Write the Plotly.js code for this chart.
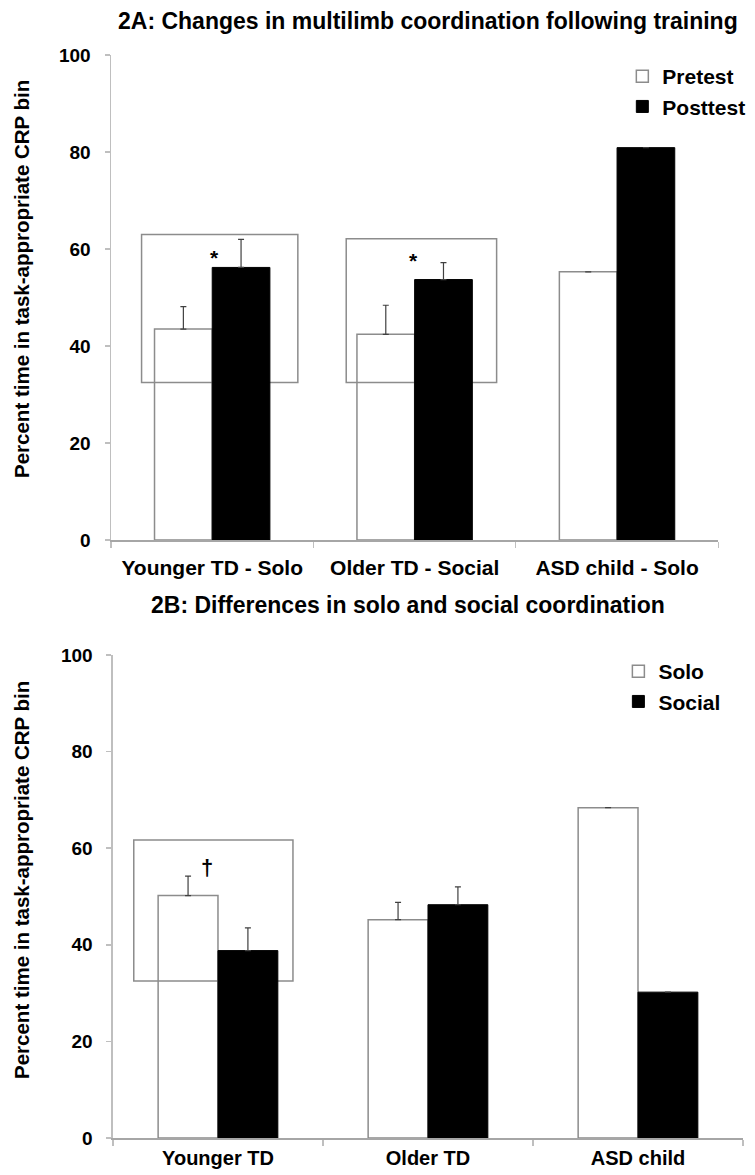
<!DOCTYPE html>
<html>
<head>
<meta charset="utf-8">
<script src="https://cdn.plot.ly/plotly-3.0.1.min.js"></script>
<style>html,body{margin:0;padding:0;background:#fff;}#chart{width:755px;height:1175px;}</style>
</head>
<body>
<div id="chart"></div>
<script>
// ---- Data ----
var catsA = ["Younger TD - Solo", "Older TD - Social", "ASD child - Solo"];
var pretest = [43.5, 42.4, 55.3];
var pretestErr = [4.6, 6.0, null];
var posttest = [56.2, 53.7, 80.9];
var posttestErr = [5.8, 3.5, null];

var catsB = ["Younger TD", "Older TD", "ASD child"];
var solo = [50.2, 45.2, 68.4];
var soloErr = [4.0, 3.6, null];
var social = [38.8, 48.3, 30.2];
var socialErr = [4.7, 3.7, null];

var yTicks = [0, 20, 40, 60, 80, 100];
var yTitleText = "Percent time in task-appropriate CRP bin";

// ---- Styling ----
var FONT = "Liberation Sans, Arial, sans-serif";
var GRAY = "#8c8c8c";
var W = 755, H = 1175;
var M = {l: 111, r: 5, t: 55, b: 37};
var PW = W - M.l - M.r, PH = H - M.t - M.b;
function px2x(px) { return (px - M.l) / PW; }
function py2y(py) { return (H - M.b - py) / PH; }
function bold(size) { return {family: FONT, size: size, weight: "bold", color: "#000"}; }

function barTrace(x, y, err, name, legend, grp, dark) {
  var top = legend === "legend";
  return {
    type: "bar", x: x, y: y, name: name, legend: legend, legendgroup: grp,
    xaxis: top ? "x" : "x2", yaxis: top ? "y" : "y2",
    marker: dark ? {color: "#000000", line: {color: "#000000", width: 1}}
                 : {color: "rgba(255,255,255,0)", line: {color: GRAY, width: 1.5}},
    error_y: {type: "data", symmetric: false, array: err,
              arrayminus: err.map(function(){ return 0; }),
              color: "#404040", thickness: 1.2, width: 3},
    hoverinfo: "x+y"
  };
}

var data = [
  barTrace(catsA, pretest, pretestErr, "Pretest", "legend", "a1", false),
  barTrace(catsA, posttest, posttestErr, "Posttest", "legend", "a2", true),
  barTrace(catsB, solo, soloErr, "Solo", "legend2", "b1", false),
  barTrace(catsB, social, socialErr, "Social", "legend2", "b2", true)
];

function yAxis(domain, anchor) {
  return {
    domain: domain, anchor: anchor, range: [0, 100], tickvals: yTicks, ticktext: yTicks.map(String),
    showgrid: false, zeroline: false, showline: true, linecolor: "#bfbfbf", linewidth: 1.5,
    ticks: "outside", ticklen: 5, tickcolor: "#bfbfbf", tickwidth: 1.5,
    tickfont: bold(19), ticklabelstandoff: 10, fixedrange: true
  };
}
function xAxis(domain, anchor, standoff, size) {
  return {
    domain: domain, anchor: anchor, type: "category",
    showgrid: false, zeroline: false, showline: true, linecolor: "#a6a6a6", linewidth: 1.5,
    ticks: "outside", tickson: "boundaries", ticklen: 6, tickcolor: "#bfbfbf", tickwidth: 1.2,
    tickfont: bold(size), ticklabelstandoff: standoff, fixedrange: true
  };
}

var shapes = [
  {type: "rect", xref: "x", yref: "y", x0: -0.349, x1: 0.423, y0: 32.5, y1: 63.0,
   line: {color: GRAY, width: 1.5}, fillcolor: "rgba(0,0,0,0)", layer: "below"},
  {type: "rect", xref: "x", yref: "y", x0: 0.662, x1: 1.405, y0: 32.5, y1: 62.1,
   line: {color: GRAY, width: 1.5}, fillcolor: "rgba(0,0,0,0)", layer: "below"},
  {type: "rect", xref: "x2", yref: "y2", x0: -0.401, x1: 0.357, y0: 32.5, y1: 61.7,
   line: {color: GRAY, width: 1.5}, fillcolor: "rgba(0,0,0,0)", layer: "below"}
];

var annotations = [
  {text: "2A: Changes in multilimb coordination following training", xref: "paper", yref: "paper",
   x: px2x(432), y: py2y(21), xanchor: "center", yanchor: "middle", showarrow: false, font: bold(23)},
  {text: "2B: Differences in solo and social coordination", xref: "paper", yref: "paper",
   x: px2x(411), y: py2y(605), xanchor: "center", yanchor: "middle", showarrow: false, font: bold(23)},
  {text: yTitleText, xref: "paper", yref: "paper", textangle: -90,
   x: px2x(20), y: py2y(279), xanchor: "center", yanchor: "middle", showarrow: false, font: bold(20.5)},
  {text: yTitleText, xref: "paper", yref: "paper", textangle: -90,
   x: px2x(20), y: py2y(880), xanchor: "center", yanchor: "middle", showarrow: false, font: bold(20.5)},
  {text: "*", xref: "x", yref: "y", x: 0.01, y: 58.3, showarrow: false, font: bold(21)},
  {text: "*", xref: "x", yref: "y", x: 0.995, y: 57.6, showarrow: false, font: bold(21)},
  {text: "†", xref: "x2", yref: "y2", x: -0.05, y: 56, showarrow: false, font: bold(22)}
];

var layout = {
  width: W, height: H, margin: M,
  paper_bgcolor: "#fff", plot_bgcolor: "#fff",
  barmode: "group", bargap: 0.43, bargroupgap: 0,
  xaxis: xAxis([0, px2x(725)], "y", 8, 21),
  yaxis: yAxis([py2y(540), 1], "x"),
  xaxis2: xAxis([px2x(113), 1], "y2", 1, 20),
  yaxis2: yAxis([0, py2y(655)], "x2"),
  legend: {x: px2x(628), y: py2y(56), xanchor: "left", yanchor: "top", font: bold(21),
           traceorder: "grouped", tracegroupgap: 0, bgcolor: "rgba(0,0,0,0)", itemclick: false},
  legend2: {x: px2x(624), y: py2y(651), xanchor: "left", yanchor: "top", font: bold(21),
            traceorder: "grouped", tracegroupgap: 0, bgcolor: "rgba(0,0,0,0)", itemclick: false},
  shapes: shapes,
  annotations: annotations,
  showlegend: true
};

Plotly.newPlot("chart", data, layout, {displayModeBar: false, staticPlot: true});
</script>
</body>
</html>
